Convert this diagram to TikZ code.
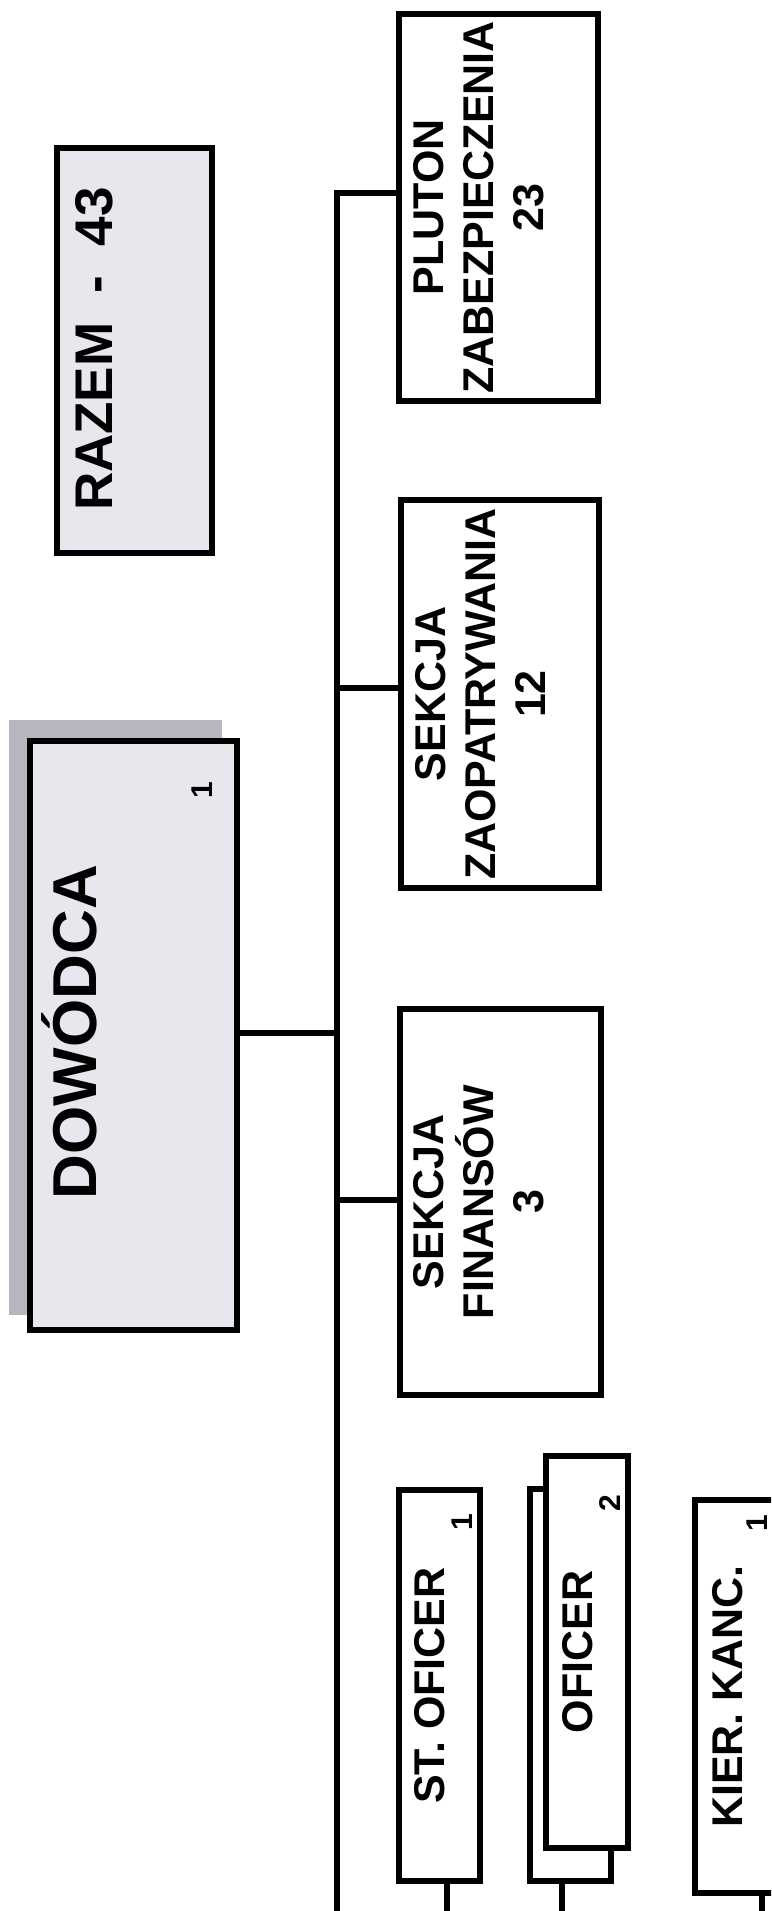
\documentclass[tikz,border=0pt]{standalone}
\usepackage{fontspec}
\setmainfont{Liberation Sans}
\usetikzlibrary{calc}
\definecolor{boxfill}{RGB}{230,232,238}
\definecolor{shadowgray}{RGB}{182,182,190}
\begin{document}
\begin{tikzpicture}[x=1pt,y=-1pt,
  boxnode/.style={draw=black, line width=6pt, rectangle, inner sep=0pt, outer sep=0pt, fill=white},
  smallbox/.style={boxnode, minimum width=82pt, minimum height=392pt},
  bigbox/.style={boxnode, minimum width=200pt, minimum height=387pt},
  conn/.style={draw=black, line width=6pt},
  lbl/.style={rotate=90, inner sep=0pt, align=center, font=\bfseries\fontsize{43}{50}\selectfont},
  single/.style={rotate=90, inner sep=0pt, anchor=base, font=\bfseries\fontsize{43}{50}\selectfont},
  num/.style={rotate=90, inner sep=0pt, anchor=base, font=\bfseries\fontsize{30}{34}\selectfont}]
\clip (0,0) rectangle (771,1911);
\fill[white] (0,0) rectangle (771,1911);

% total
\node[boxnode, fill=boxfill, minimum width=155pt, minimum height=405pt] (razem) at (134.5,350.5) {};
\node[rotate=90, inner sep=0pt, anchor=base, font=\bfseries\fontsize{53}{60}\selectfont] (razemtxt) at (112,349) {RAZEM\ \ -\ \ 43};

% commander
\node[fill=shadowgray, minimum width=213pt, minimum height=595pt, inner sep=0pt] (dowshadow) at (115.5,1017.5) {};
\node[boxnode, fill=boxfill, minimum width=207pt, minimum height=589pt] (dow) at (133.5,1035.5) {};
\node[rotate=90, inner sep=0pt, anchor=base, font=\bfseries\fontsize{62}{70}\selectfont] (dowtxt) at (96,1032) {DOWÓDCA};
\node[num] (downum) at (212,790) {1};

% sections
\node[bigbox, minimum width=199pt] (pluton) at (498.5,207.5) {};
\node[lbl] (plutontxt) at ($(pluton.west)+(80,0)$) {PLUTON\\ZABEZPIECZENIA\\23};

\node[bigbox, minimum width=198pt, minimum height=388pt] (zaop) at (500,694) {};
\node[lbl] (zaoptxt) at ($(zaop.west)+(79,0)$) {SEKCJA\\ZAOPATRYWANIA\\12};

\node[bigbox, minimum width=201pt, minimum height=386pt] (fin) at (500.5,1202) {};
\node[lbl] (fintxt) at ($(fin.west)+(79,0)$) {SEKCJA\\FINANSÓW\\3};

% individual posts
\node[smallbox, minimum width=81pt, minimum height=391pt] (st) at (439.5,1685.5) {};
\node[single] (sttxt) at (444.5,1685.5) {ST. OFICER};
\node[num] (stnum) at (472,1522) {1};

\node[smallbox, minimum width=81pt] (ofback) at (570.5,1685) {};
\node[smallbox] (offront) at (587,1652) {};
\node[single] (oftxt) at (592,1652) {OFICER};
\node[num] (ofnum) at (620,1503) {2};

\node[smallbox, minimum height=393pt] (kier) at (736,1696.5) {};
\node[single] (kiertxt) at (742,1696.5) {KIER. KANC.};
\node[num] (kiernum) at (767,1523) {1};

% connectors
\coordinate (ttop) at (336.5,193);
\coordinate (tbot) at (336.5,1911);
\coordinate (jz) at (336.5,688);
\coordinate (jd) at (336.5,1033);
\coordinate (jf) at (336.5,1200);
\draw[conn] (pluton.west |- ttop) -- (ttop) -- (tbot);
\draw[conn] (zaop.west |- jz) -- (jz);
\draw[conn] (dow.east |- jd) -- (jd);
\draw[conn] (fin.west |- jf) -- (jf);

\coordinate (stend) at (447,1911);
\coordinate (ofend) at (562,1911);
\coordinate (kiend) at (762,1911);
\draw[conn] (st.south -| stend) -- (stend);
\draw[conn] (ofback.south -| ofend) -- (ofend);
\draw[conn] (kier.south -| kiend) -- (kiend);
\end{tikzpicture}
\end{document}
